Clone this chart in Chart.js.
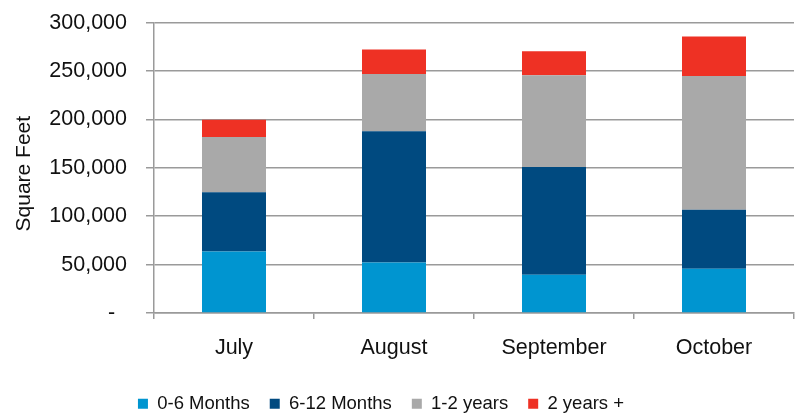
<!DOCTYPE html>
<html lang="en">
<head>
    <meta charset="UTF-8">
    <title>Square Feet by Lease Age</title>
    <style>
        body {
            margin: 0;
            background-color: white;
        }
        .chart-box {
            width: 796px;
            height: 416px;
            position: relative;
        }
    </style>
</head>
<body>
    <div class="chart-box">
        <canvas id="sqftChart"></canvas>
    </div>

    <script src="https://cdn.jsdelivr.net/npm/chart.js"></script>
    <script>
        // Values
        const months = ['July', 'August', 'September', 'October'];
        const zeroToSixMonths = [63600, 52200, 39500, 45700];
        const sixToTwelveMonths = [61200, 135600, 111400, 61100];
        const oneToTwoYears = [57200, 59300, 94800, 138200];
        const twoYearsPlus = [17600, 25200, 24800, 40700];
        const yTickLabels = ['-  ', '50,000', '100,000', '150,000', '200,000', '250,000', '300,000'];

        const gridGray = '#9a9a9a';
        Chart.defaults.font.family = "'Liberation Sans', Arial, sans-serif";
        Chart.defaults.color = '#111';

        // legend sits a bit left of centre and lower in the original
        const legendNudge = {
            id: 'legendNudge',
            afterLayout(chart) {
                const lg = chart.legend;
                lg.left -= 16;
                lg.right -= 16;
                lg.top += 7;
                lg.bottom += 7;
            }
        };

        new Chart(document.getElementById('sqftChart'), {
            type: 'bar',
            data: {
                labels: months,
                datasets: [
                    { label: '0-6 Months', data: zeroToSixMonths, backgroundColor: '#0095d0' },
                    { label: '6-12 Months', data: sixToTwelveMonths, backgroundColor: '#004a80' },
                    { label: '1-2 years', data: oneToTwoYears, backgroundColor: '#a9a9a9' },
                    { label: '2 years +', data: twoYearsPlus, backgroundColor: '#ee3124' }
                ]
            },
            plugins: [legendNudge],
            options: {
                responsive: true,
                maintainAspectRatio: false,
                animation: false,
                layout: {
                    padding: { top: 22.7, right: 2, bottom: 0, left: 0 }
                },
                datasets: {
                    bar: {
                        borderWidth: 0,
                        categoryPercentage: 1,
                        barPercentage: 0.4
                    }
                },
                scales: {
                    x: {
                        stacked: true,
                        afterFit: (scale) => { scale.height = 54.5; },
                        grid: {
                            offset: true,
                            drawOnChartArea: false,
                            drawTicks: true,
                            tickLength: 6,
                            color: gridGray,
                            lineWidth: 1.5
                        },
                        border: { color: gridGray, width: 1.5 },
                        ticks: {
                            font: { size: 21.5 },
                            padding: 16
                        }
                    },
                    y: {
                        stacked: true,
                        min: 0,
                        max: 300000,
                        afterFit: (scale) => {
                            scale.width = 154;
                            scale.paddingTop = 0;
                            scale.paddingBottom = 0;
                        },
                        ticks: {
                            stepSize: 50000,
                            font: { size: 21.5 },
                            padding: 19,
                            callback: (value, index) => yTickLabels[index]
                        },
                        grid: {
                            color: gridGray,
                            lineWidth: 1.5,
                            tickLength: 8
                        },
                        border: { color: gridGray, width: 1.5 },
                        title: {
                            display: true,
                            // trailing spaces push the rotated title a little lower
                            text: 'Square Feet  ',
                            font: { size: 21 },
                            padding: { top: 12, bottom: 0 }
                        }
                    }
                },
                plugins: {
                    tooltip: { enabled: false },
                    legend: {
                        position: 'bottom',
                        labels: {
                            boxWidth: 10,
                            boxHeight: 10,
                            padding: 20,
                            font: { size: 18.5 }
                        }
                    }
                }
            }
        });
    </script>
</body>
</html>
